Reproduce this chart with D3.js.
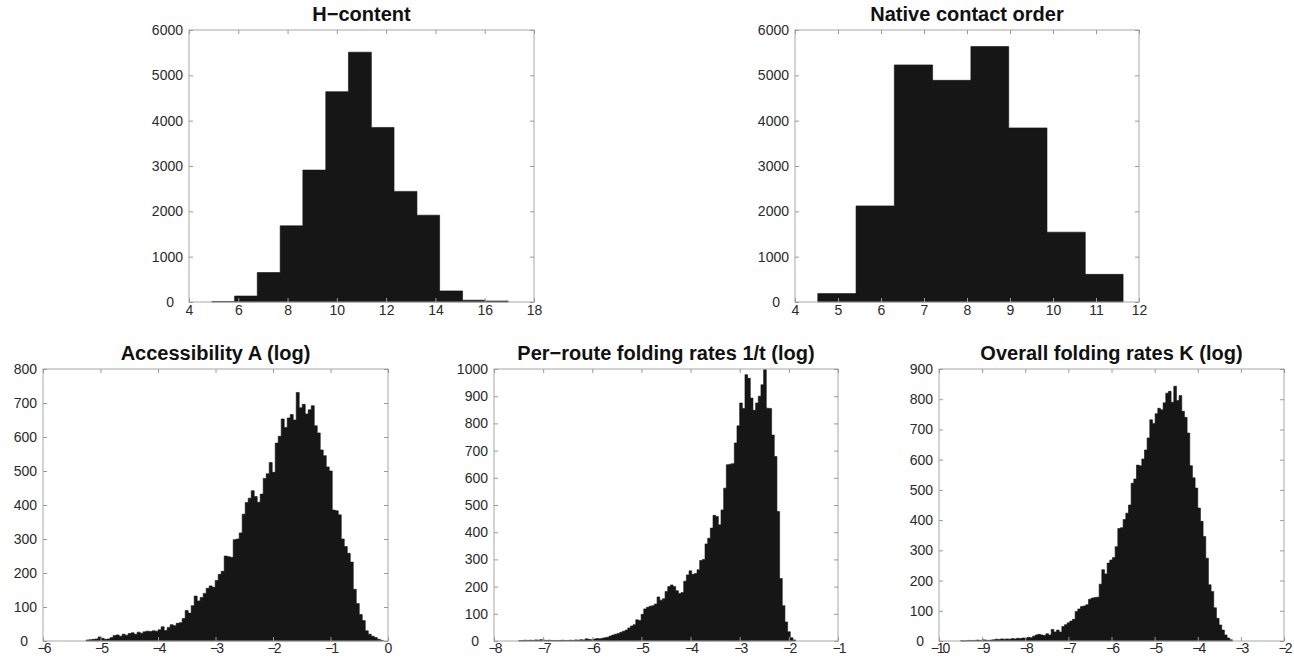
<!DOCTYPE html>
<html>
<head>
<meta charset="utf-8">
<script src="https://cdn.jsdelivr.net/npm/d3@7"></script>
<style>
  body { margin: 0; background: #fff; }
  svg { display: block; }
  .tick text { font-family: "Liberation Sans", Arial, sans-serif; font-size: 14px; fill: #2a2a2a; }
  .tick line { stroke: #9a9a9a; }
  .title { font-family: "Liberation Sans", Arial, sans-serif; font-size: 20px; font-weight: bold; fill: #111; }
</style>
</head>
<body>
<div class="chart"></div>
<script>
// H-content: bin edges and counts
const hEdges = [4.93, 5.85, 6.77, 7.70, 8.62, 9.55, 10.47, 11.40, 12.32, 13.25, 14.17, 15.10, 16.02, 16.95]
const hCounts = [12, 132, 650, 1680, 2910, 4640, 5510, 3850, 2440, 1915, 245, 40, 22]

// Native contact order
const coEdges = [4.53, 5.42, 6.31, 7.20, 8.09, 8.97, 9.86, 10.75, 11.63]
const coCounts = [185, 2120, 5230, 4890, 5635, 3840, 1540, 610]

// Accessibility A (log) — equal bins
const accStart = -5.25, accWidth = 0.0522
const accCounts = [3, 4, 5, 6, 12, 8, 5, 6, 10, 16, 18, 14, 20, 17, 22, 24, 20, 26, 23, 27,
  29, 28, 30, 29, 33, 42, 31, 40, 48, 45, 52, 54, 66, 90, 82, 104, 132, 118, 128, 140,
  155, 162, 158, 178, 196, 205, 250, 248, 246, 298, 300, 318, 373, 407, 420, 442, 425, 408, 432, 478,
  492, 525, 496, 582, 602, 653, 628, 656, 666, 650, 731, 686, 696, 668, 680, 692, 633, 612, 562, 545,
  512, 500, 385, 383, 371, 300, 278, 258, 232, 152, 110, 78, 60, 30, 20, 14, 10, 5, 2]

// Per-route folding rates 1/t (log)
const prStart = -7.5, prWidth = 0.0542
const prCounts = [1, 2, 3, 2, 3, 2, 4, 3, 5, 3, 2, 3, 2, 2, 1, 2, 3, 2, 2, 3,
  2, 4, 3, 5, 4, 8, 6, 5, 7, 9, 8, 10, 12, 14, 18, 22, 25, 28, 32, 36,
  40, 48, 55, 60, 78, 75, 98, 118, 124, 128, 130, 136, 162, 150, 155, 182, 200, 206, 200, 185,
  175, 178, 220, 243, 258, 245, 248, 262, 296, 300, 357, 378, 415, 462, 458, 427, 482, 562, 648, 650,
  652, 728, 791, 875, 855, 979, 966, 893, 848, 875, 900, 942, 998, 856, 855, 757, 678, 476, 230, 130,
  70, 34, 12, 4]

// Overall folding rates K (log)
const ofStart = -9.5, ofWidth = 0.0618
const ofCounts = [1, 0, 1, 2, 1, 2, 3, 2, 4, 3, 2, 3, 4, 6, 5, 7, 6, 7, 6, 8,
  7, 9, 8, 10, 9, 12, 11, 16, 20, 22, 20, 18, 24, 20, 38, 30, 36, 30, 48, 54,
  60, 66, 72, 98, 106, 114, 116, 120, 138, 142, 144, 145, 188, 236, 222, 258, 268, 276, 312, 372,
  375, 402, 423, 450, 522, 536, 582, 580, 602, 632, 672, 732, 720, 752, 770, 765, 788, 820, 826, 790,
  843, 796, 812, 760, 740, 688, 580, 540, 506, 440, 396, 346, 274, 186, 164, 110, 75, 53, 36, 20,
  10, 4]

function equalEdges(start, width, n) {
  return d3.range(n + 1).map(i => start + i * width)
}

const panels = [
  { title: "H\u2212content", edges: hEdges, counts: hCounts, xDom: [4, 18], xStep: 2, yDom: [0, 6000], yStep: 1000,
    left: 189, top: 30, w: 345, h: 272 },
  { title: "Native contact order", edges: coEdges, counts: coCounts, xDom: [4, 12], xStep: 1, yDom: [0, 6000], yStep: 1000,
    left: 795, top: 30, w: 344, h: 272 },
  { title: "Accessibility A (log)", edges: equalEdges(accStart, accWidth, accCounts.length), counts: accCounts,
    xDom: [-6, 0], xStep: 1, yDom: [0, 800], yStep: 100, left: 43, top: 369, w: 345, h: 272 },
  { title: "Per\u2212route folding rates 1/t (log)", edges: equalEdges(prStart, prWidth, prCounts.length), counts: prCounts,
    xDom: [-8, -1], xStep: 1, yDom: [0, 1000], yStep: 100, left: 494, top: 369, w: 344, h: 272 },
  { title: "Overall folding rates K (log)", edges: equalEdges(ofStart, ofWidth, ofCounts.length), counts: ofCounts,
    xDom: [-10, -2], xStep: 1, yDom: [0, 900], yStep: 100, left: 939, top: 369, w: 345, h: 272 }
]

const svg = d3.select(".chart").append("svg")
  .attr("width", 1294)
  .attr("height", 660)

const fmt = d => (d < 0 ? "\u2212" + Math.abs(d) : "" + d)

panels.forEach(p => {
  const g = svg.append("g").attr("transform", "translate(" + p.left + "," + p.top + ")")
  const x = d3.scaleLinear().domain(p.xDom).range([0, p.w])
  const y = d3.scaleLinear().domain(p.yDom).range([p.h, 0])
  const xTicks = d3.range(p.xDom[0], p.xDom[1] + 0.001, p.xStep)
  const yTicks = d3.range(p.yDom[0], p.yDom[1] + 0.001, p.yStep)

  // histogram as one stepped outline so neighbouring bars don't leave seams
  const steps = []
  p.counts.forEach((c, i) => {
    steps.push({ x: p.edges[i], c: c })
    steps.push({ x: p.edges[i + 1], c: c })
  })
  const area = d3.area()
    .x(d => x(d.x))
    .y0(y(0))
    .y1(d => y(d.c))

  g.append("path")
    .datum(steps)
    .attr("class", "bars")
    .attr("d", area)
    .style("fill", "#161616")
    .style("stroke", "#111")
    .style("stroke-width", 0.6)

  // box
  g.append("rect")
    .attr("width", p.w).attr("height", p.h)
    .style("fill", "none").style("stroke", "#a8a8a8").style("stroke-width", 1)

  const ax = (axis, tr) => {
    const a = g.append("g").attr("transform", tr).call(axis)
    a.select(".domain").remove()
    return a
  }
  const xb = ax(d3.axisBottom(x).tickValues(xTicks).tickSize(-4).tickPadding(p.top < 100 ? 3 : 2).tickFormat(fmt), "translate(0," + p.h + ")")
  xb.selectAll("text").filter(d => d < 0).style("letter-spacing", "-2px")
  ax(d3.axisTop(x).tickValues(xTicks).tickSize(-4).tickFormat(""), "translate(0,0)")
  const yl = ax(d3.axisLeft(y).tickValues(yTicks).tickSize(-4).tickPadding(6).tickFormat(d3.format("d")), "translate(0,0)")
  // the zero label sits a little further out, as in the original figure
  yl.selectAll("text").filter(d => d === 0).attr("x", -15)
  ax(d3.axisRight(y).tickValues(yTicks).tickSize(-4).tickFormat(""), "translate(" + p.w + ",0)")

  g.append("text")
    .attr("class", "title")
    .attr("x", p.w / 2)
    .attr("y", -9)
    .style("text-anchor", "middle")
    .text(p.title)
})
</script>
</body>
</html>
